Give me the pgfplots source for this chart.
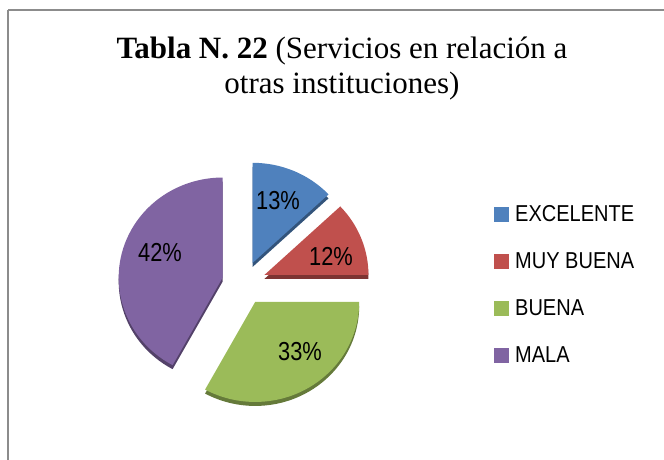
\documentclass[border=0pt]{standalone}
\usepackage{pgfplots}
\pgfplotsset{compat=1.18}
\usepackage{fontspec}
\setmainfont{Liberation Serif}
\newfontfamily\narrow[FakeStretch=0.84]{Liberation Sans}
\newfontfamily\narrowl[FakeStretch=0.87]{Liberation Sans}
\definecolor{cA}{HTML}{4F81BD}
\definecolor{cB}{HTML}{C0504D}
\definecolor{cC}{HTML}{9BBB59}
\definecolor{cD}{HTML}{8064A2}
\tikzset{lbl/.style={font=\narrow\fontsize{26}{26}\selectfont, text=black, inner sep=0pt}}
% pie geometry (1 axis unit = 1pt)
\def\cx{244}\def\cy{176}\def\rx{104}\def\ry{100}\def\dd{22}
% #1 cumulative start (%), #2 value (%), #3 colour, #4,#5 label position
\newcommand{\pieslice}[5]{%
  \pgfmathsetmacro\sa{90-3.6*#1}%
  \pgfmathsetmacro\ea{90-3.6*(#1+#2)}%
  \pgfmathsetmacro\mid{(\sa+\ea)/2}%
  \pgfmathsetmacro\ax{\cx+\dd*cos(\mid)}%
  \pgfmathsetmacro\ay{\cy+\dd*sin(\mid)}%
  \pgfmathsetmacro\ayd{\ay-4}%
  \pgfmathsetmacro\sx{\ax+\rx*cos(\sa)}%
  \pgfmathsetmacro\sy{\ay+\ry*sin(\sa)}%
  \pgfmathsetmacro\syd{\sy-4}%
  \pgfmathtruncatemacro\val{#2}%
  \edef\temp{%
    \noexpand\fill[#3!65!black] (axis cs:\ax,\ayd) -- (axis cs:\sx,\syd) arc[start angle=\sa, end angle=\ea, x radius=\rx, y radius=\ry] -- cycle;
    \noexpand\fill[#3] (axis cs:\ax,\ay) -- (axis cs:\sx,\sy) arc[start angle=\sa, end angle=\ea, x radius=\rx, y radius=\ry] -- cycle;
    \noexpand\node[lbl] at (axis cs:#4,#5) {\val\noexpand\%};
  }\temp}
\begin{document}
\begin{tikzpicture}
\begin{axis}[
  at={(0,0)}, anchor=origin,
  scale only axis, width=664pt, height=459pt,
  xmin=0, xmax=664, ymin=0, ymax=459,
  hide axis, clip=true,
  legend style={at={(axis cs:491,255.5)}, anchor=north west, draw=none, fill=none,
    font=\narrowl\fontsize{23}{23}\selectfont,
    nodes={inner sep=0pt, text height=16pt, text depth=0pt},
    row sep=30.3pt, column sep=6pt, cells={anchor=west}},
  legend image code/.code={\fill[#1] (0pt,-8.5pt) rectangle (15pt,6.5pt);},
]
\draw[line width=2pt, color=black!45] (axis cs:8,449) -- (axis cs:700,449);
\draw[line width=2pt, color=black!45] (axis cs:8,449) -- (axis cs:8,-20);
\node[anchor=base, font=\fontsize{31}{34}\selectfont] at (axis cs:342,400) {\textbf{Tabla N. 22} (Servicios en relación a};
\node[anchor=base, font=\fontsize{31}{34}\selectfont] at (axis cs:342,366) {otras instituciones)};
\pieslice{0}{13}{cA}{278}{258}
\pieslice{13}{12}{cB}{331}{203}
\pieslice{25}{33}{cC}{300}{107.5}
\pieslice{58}{42}{cD}{160}{207}
\addlegendimage{fill=cA, draw=none}\addlegendentry{EXCELENTE}
\addlegendimage{fill=cB, draw=none}\addlegendentry{MUY BUENA}
\addlegendimage{fill=cC, draw=none}\addlegendentry{BUENA}
\addlegendimage{fill=cD, draw=none}\addlegendentry{MALA}
\end{axis}
\pgfresetboundingbox
\useasboundingbox (0,0) rectangle (664pt,459pt);
\end{tikzpicture}
\end{document}
